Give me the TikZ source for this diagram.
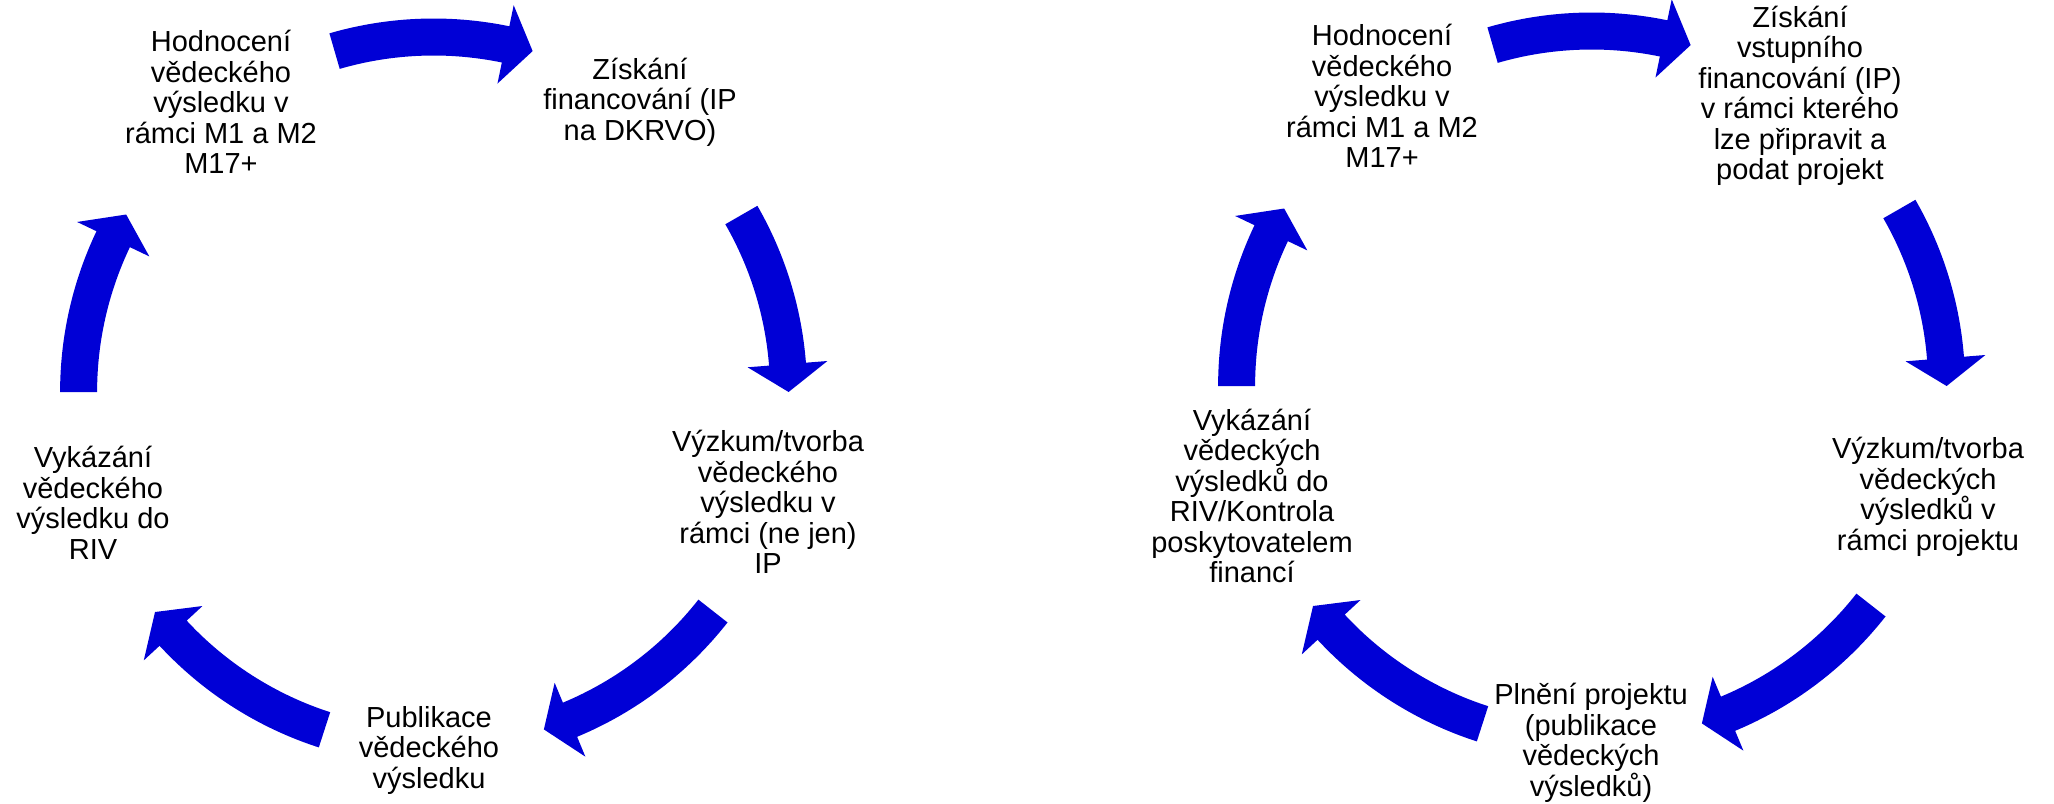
\documentclass[tikz,border=0pt]{standalone}
\usepackage{fontspec}
\setmainfont{Liberation Sans}
\definecolor{cycleblue}{RGB}{0,0,214}
\tikzset{
  steptext/.style={align=center,font=\fontsize{14.5}{15.25}\selectfont,inner sep=0pt},
  cyclearrow/.style={fill=cycleblue},
}

\begin{document}
\begin{tikzpicture}[x=0.5pt,y=0.5pt]
  \useasboundingbox (0,0) rectangle (2054,-803);

  % block arrows of both cycles
  \foreach \cx/\cy in {433.6/-392,1591.6/-386} {
    \foreach \a/\b in {106.2/73.8,29.9/0,-38.1/-71.9,-107.9/-141.7,180/150} {
      \pgfmathsetmacro\h{\b+4.5}
      \fill[cyclearrow,shift={(\cx,\cy)}] (\a:373.5) arc[start angle=\a,end angle=\h,radius=373.5]
        -- (\h:395) -- (\b:355) -- (\h:315) -- (\h:336.5)
        arc[start angle=\h,end angle=\a,radius=336.5] -- cycle;
    }
  }

  % left cycle
  \node[steptext] (lhod) at (221,-102) {Hodnocení\\vědeckého\\výsledku v\\rámci M1 a M2\\M17+};
  \node[steptext] (lzis) at (640,-102) {Získání\\financování (IP\\na DKRVO)};
  \node[steptext] (lvyz) at (768,-502) {Výzkum/tvorba\\vědeckého\\výsledku v\\rámci (ne jen)\\IP};
  \node[steptext] (lpub) at (429,-750) {Publikace\\vědeckého\\výsledku};
  \node[steptext] (lvyk) at (93,-503) {Vykázání\\vědeckého\\výsledku do\\RIV};

  % right cycle
  \node[steptext] (rhod) at (1382,-96) {Hodnocení\\vědeckého\\výsledku v\\rámci M1 a M2\\M17+};
  \node[steptext] (rzis) at (1800,-96) {Získání\\vstupního\\financování (IP)\\v rámci kterého\\lze připravit a\\podat projekt};
  \node[steptext] (rvyz) at (1928,-497) {Výzkum/tvorba\\vědeckých\\výsledků v\\rámci projektu};
  \node[steptext] (rpln) at (1591,-743) {Plnění projektu\\(publikace\\vědeckých\\výsledků)};
  \node[steptext] (rvyk) at (1252,-496) {Vykázání\\vědeckých\\výsledků do\\RIV/Kontrola\\poskytovatelem\\financí};
\end{tikzpicture}
\end{document}
